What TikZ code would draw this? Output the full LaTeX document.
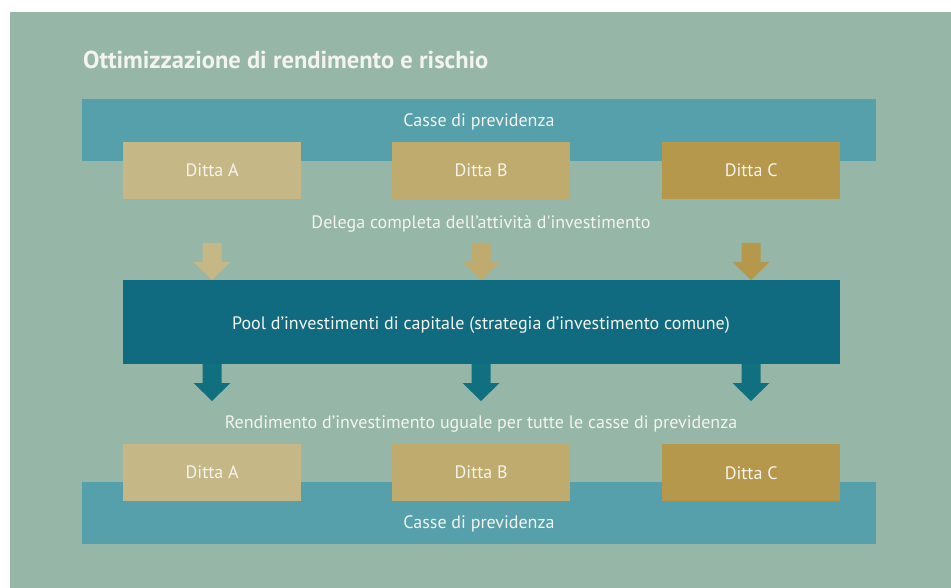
\documentclass[tikz,border=0pt]{standalone}
\usepackage{fontspec}
\setmainfont{PT Sans}[Ligatures=TeXOff]
\definecolor{bggreen}{HTML}{96B6A8}
\definecolor{casse}{HTML}{55A0AB}
\definecolor{dittaA}{HTML}{C5B886}
\definecolor{dittaB}{HTML}{C0AB6E}
\definecolor{dittaC}{HTML}{B5984C}
\definecolor{pool}{HTML}{116B80}
\definecolor{poolarrow}{HTML}{117080}
\definecolor{txtwhite}{HTML}{F4F4EE}
\newcommand{\dnarrow}[2]{\fill[#2] (#1) ++(-9.5,0) -- ++(19,0) -- ++(0,19) -- ++(9,0)
  -- ++(-18.5,18) -- ++(-18.5,-18) -- ++(9,0) -- cycle;}

\begin{document}
\begin{tikzpicture}[x=1pt,y=-1pt,
  txt/.style={text=txtwhite,font=\fontsize{18}{21}\selectfont,inner sep=0pt},
  bar/.style={fill=casse,minimum width=794pt,minimum height=62pt,inner sep=0pt,anchor=north west},
  firm/.style={txt,minimum width=178pt,minimum height=57pt,anchor=north west}]
  \useasboundingbox (0,0) rectangle (951,588);
  \fill[white] (0,0) rectangle (951,588);
  \fill[bggreen] (10,12) rectangle (951,588);
  % title
  \node[anchor=base west,inner sep=0pt,text=txtwhite,font=\fontsize{24.5}{28}\selectfont\bfseries] (title) at (83,69)
    {Ottimizzazione di rendimento e rischio};
  % upper part
  \node[bar] (casseTop) at (82,99) {};
  \node[txt] (casseTopLbl) at (479,122) {Casse di previdenza};
  \node[firm,fill=dittaA] (topA) at (123,142) {Ditta A};
  \node[firm,fill=dittaB] (topB) at (392,142) {Ditta B};
  \node[firm,fill=dittaC] (topC) at (662,142) {Ditta C};
  \node[txt] (delega) at (481,224) {Delega completa dell’attività d'investimento};
  \coordinate (inA) at (212,243);
  \coordinate (inB) at (481,243);
  \coordinate (inC) at (751,243);
  \dnarrow{inA}{dittaA}
  \dnarrow{inB}{dittaB}
  \dnarrow{inC}{dittaC}
  % pool
  \node[txt,fill=pool,minimum width=717pt,minimum height=84pt,anchor=north west] (pool) at (123,280) {};
  \node[txt] (poolLbl) at (481,325) {Pool d’investimenti di capitale (strategia d’investimento comune)};
  \coordinate (outA) at (212,364);
  \coordinate (outB) at (481,364);
  \coordinate (outC) at (751,364);
  \dnarrow{outA}{poolarrow}
  \dnarrow{outB}{poolarrow}
  \dnarrow{outC}{poolarrow}
  \node[txt] (rendimento) at (481,424) {Rendimento d’investimento uguale per tutte le casse di previdenza};
  % lower part
  \node[bar] (casseBot) at (82,482) {};
  \node[txt] (casseBotLbl) at (479,524) {Casse di previdenza};
  \node[firm,fill=dittaA] (botA) at (123,444) {Ditta A};
  \node[firm,fill=dittaB] (botB) at (392,444) {Ditta B};
  \node[firm,fill=dittaC] (botC) at (662,444) {Ditta C};
\end{tikzpicture}
\end{document}
